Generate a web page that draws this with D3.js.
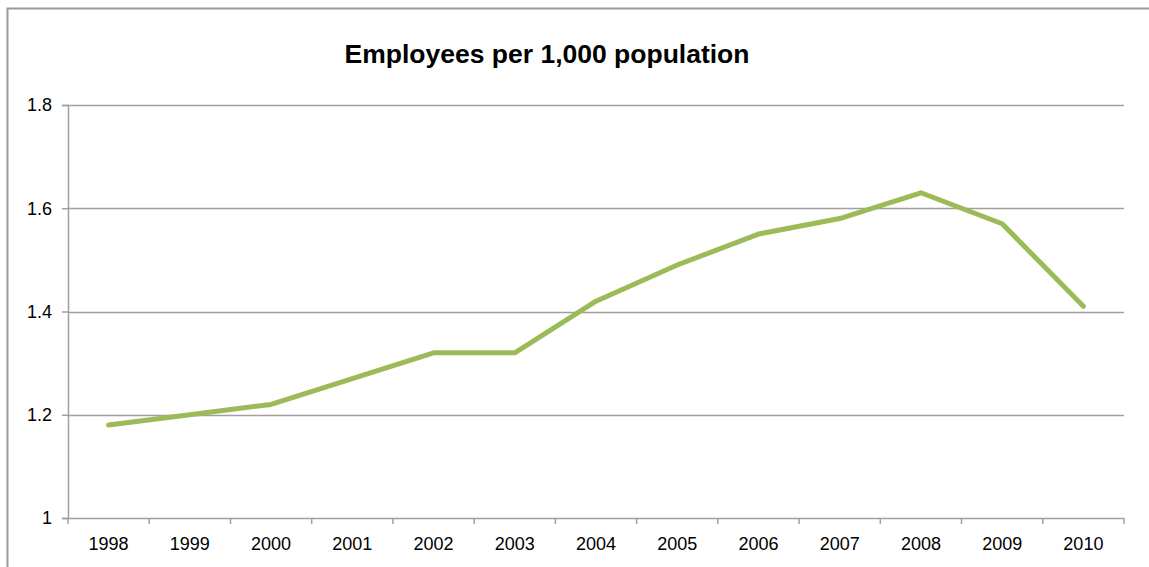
<!DOCTYPE html>
<html>
<head>
<meta charset="utf-8">
<script src="https://cdn.jsdelivr.net/npm/d3@7"></script>
<style>
  html, body { margin: 0; padding: 0; background: #fff; }
  svg { display: block; font-family: "Liberation Sans", Arial, sans-serif; }
</style>
</head>
<body>
<svg id="chart" width="1149" height="567"></svg>
<script>
const years = ["1998","1999","2000","2001","2002","2003","2004","2005","2006","2007","2008","2009","2010"];
const employees = [1.18, 1.20, 1.22, 1.27, 1.32, 1.32, 1.42, 1.49, 1.55, 1.58, 1.63, 1.57, 1.41];
const yTicks = [1, 1.2, 1.4, 1.6, 1.8];
const title = "Employees per 1,000 population";

const svg = d3.select("#chart");
const W = 1149, H = 567;
const plot = { left: 68, right: 1124, top: 105, bottom: 518 };

// outer chart frame (extends past the right and bottom edges)
svg.append("rect")
  .attr("x", 7.5).attr("y", 8.5)
  .attr("width", W + 10).attr("height", H + 10)
  .attr("fill", "none").attr("stroke", "#9a9a9a").attr("stroke-width", 2);

svg.append("text")
  .attr("x", 547).attr("y", 63)
  .attr("text-anchor", "middle")
  .attr("font-size", 26.5).attr("font-weight", "bold")
  .text(title);

const x = d3.scaleBand().domain(years).range([plot.left, plot.right]);
const y = d3.scaleLinear().domain([1, 1.8]).range([plot.bottom, plot.top]);

// horizontal gridlines
svg.append("g")
  .selectAll("line")
  .data(yTicks.filter(v => v > 1))
  .join("line")
  .attr("x1", plot.left).attr("x2", plot.right)
  .attr("y1", d => Math.round(y(d)) + 0.5).attr("y2", d => Math.round(y(d)) + 0.5)
  .attr("stroke", "#a0a0a0").attr("stroke-width", 1.5);

// y axis
const yAxis = svg.append("g")
  .attr("transform", `translate(${plot.left},0)`)
  .call(d3.axisLeft(y).tickValues(yTicks).tickFormat(d3.format("")).tickSize(6).tickPadding(10));
yAxis.select(".domain").attr("stroke", "#a0a0a0").attr("stroke-width", 1.5);
yAxis.selectAll(".tick line").attr("stroke", "#a0a0a0").attr("stroke-width", 1.5);
yAxis.selectAll(".tick text").attr("font-size", 18).attr("fill", "#000")
  .attr("font-family", "Liberation Sans, Arial, sans-serif");

// x axis: ticks sit on the category boundaries
const boundaries = d3.range(years.length + 1).map(i => plot.left + i * x.step());
const xg = svg.append("g");
xg.append("line")
  .attr("x1", plot.left).attr("x2", plot.right)
  .attr("y1", plot.bottom + 0.5).attr("y2", plot.bottom + 0.5)
  .attr("stroke", "#a0a0a0").attr("stroke-width", 1.5);
xg.selectAll("line.tk")
  .data(boundaries)
  .join("line").attr("class", "tk")
  .attr("x1", d => d).attr("x2", d => d)
  .attr("y1", plot.bottom).attr("y2", plot.bottom + 6)
  .attr("stroke", "#a0a0a0").attr("stroke-width", 1.5);
xg.selectAll("text")
  .data(years)
  .join("text")
  .attr("x", d => x(d) + x.bandwidth() / 2)
  .attr("y", 550)
  .attr("text-anchor", "middle")
  .attr("font-size", 18).attr("fill", "#000")
  .text(d => d);

// data line
const line = d3.line()
  .x((d, i) => x(years[i]) + x.bandwidth() / 2)
  .y(d => y(d));
svg.append("path")
  .datum(employees)
  .attr("d", line)
  .attr("fill", "none")
  .attr("stroke", "#9bbb59")
  .attr("stroke-width", 5)
  .attr("stroke-linejoin", "round")
  .attr("stroke-linecap", "round");
</script>
</body>
</html>
